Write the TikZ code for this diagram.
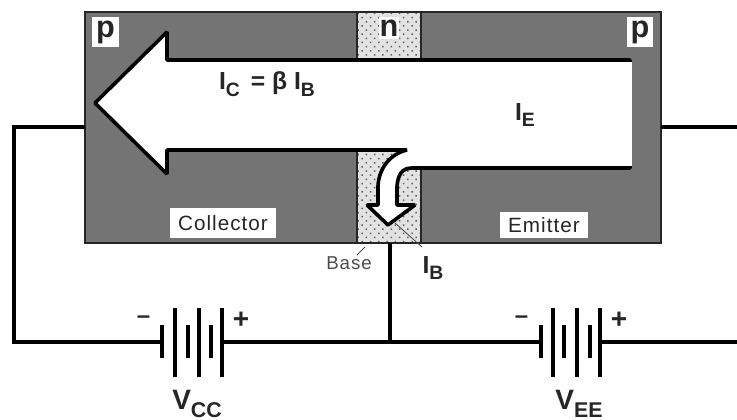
\documentclass[tikz,border=0pt]{standalone}
\usepackage{fontspec}
\setmainfont{Liberation Sans}
\newfontfamily\labfont[LetterSpace=5]{Liberation Sans}
\usetikzlibrary{patterns.meta}
\definecolor{dope}{HTML}{747474}
\definecolor{basefill}{HTML}{E2E2E2}
\definecolor{basedot}{HTML}{606060}
\tikzset{
  x=0.75pt,y=-0.75pt,
  wire/.style={line width=2.3pt,black,line cap=butt},
  frameline/.style={line width=1.2pt,draw=black!85},
  carrier/.style={fill=white,draw=black,line width=2.7pt,line join=bevel},
  plate/.style={line width=2.8pt,black},
  tag/.style={fill=white,inner sep=0pt,font=\fontsize{15.5}{16}\labfont\color{black!85}},
  big/.style={inner sep=1pt,font=\fontsize{18.5}{19}\bfseries\color{black!85}},
  mini/.style={inner sep=0pt,font=\fontsize{14}{15}\labfont\color{black!70}},
  lead/.style={line width=0.6pt,black!70},
  type/.style={fill=white,inner sep=0pt,font=\fontsize{23}{24}\bfseries\color{black!85}}
}
\newcommand{\sub}[1]{\raisebox{-0.28em}{\fontsize{14.5}{15}\bfseries #1}}
\begin{document}
\begin{tikzpicture}
\useasboundingbox (0,0) rectangle (737,420);
% semiconductor body
\fill[white] (0,0) rectangle (737,420);
\fill[dope] (85,12) rectangle (661,243);
\fill[basefill] (357,12) rectangle (421,243);
\fill[pattern={Dots[radius=0.8pt,distance=4.4pt,angle=45,xshift=1pt]},pattern color=basedot] (357,12) rectangle (421,243);
\draw[frameline] (85,12) rectangle (661,243);
\draw[frameline] (357,12) -- (357,243) (421,12) -- (421,243);
% large current arrow with branch to the base
\path[carrier] (95,103) -- (167,32) -- (167,60) -- (630,60) -- (630,168)
  -- (412,168) .. controls (401,168) and (398,176) .. (397,186) -- (397,205) -- (415,205)
  -- (388,225) -- (367,205) -- (378,205) -- (378,186)
  .. controls (379,168) and (390,154) .. (407,150) -- (167,150) -- (167,174) -- cycle;
\fill[white] (627,62) rectangle (632,166);
% labels
\node[type,minimum width=20pt,minimum height=23pt] (pl) at (105.5,32) {p};
\node[type,minimum width=15pt,minimum height=17pt] (nl) at (389,28) {n};
\node[type,minimum width=19pt,minimum height=23pt] (pr) at (640,32) {p};
\node[tag,minimum width=80pt,minimum height=22pt] (coll) at (223,223) {Collector};
\node[tag,minimum width=66pt,minimum height=20pt] (emit) at (544,225) {Emitter};
\node[big] (ic) at (267,84) {I\sub{C} \,= β I\sub{B}};
\node[big] (ie) at (525,115) {I\sub{E}};
\node[big] (ib) at (433,268) {I\sub{B}};
\node[mini] (bs) at (349,263) {Base};
\coordinate (btick) at (365,247);
\coordinate (btail) at (357,255);
\coordinate (ibt) at (395,223);
\coordinate (ibe) at (422,247);
\draw[lead] (btail) -- (btick);
\draw[lead] (ibt) -- (ibe);
% batteries
\foreach \n/\x in {a/162,c/188,e/211,g/541,i/564,k/590}{
  \coordinate (\n1) at (\x,325); \coordinate (\n2) at (\x,358);
  \draw[plate] (\n1) -- (\n2);
}
\foreach \n/\x in {b/175,d/199,f/222,h/553,j/577,m/600}{
  \coordinate (\n1) at (\x,308); \coordinate (\n2) at (\x,377);
  \draw[plate] (\n1) -- (\n2);
}
% wires
\coordinate (cl) at (85,127);
\coordinate (cr) at (661,127);
\coordinate (rt) at (737,127);
\coordinate (rb) at (737,342);
\coordinate (jb) at (390,342);
\coordinate (bt) at (390,243);
\coordinate (a3) at (162,342);
\coordinate (f3) at (222,342);
\coordinate (g3) at (541,342);
\coordinate (m3) at (600,342);
\draw[wire,line join=miter] (cl) -- (14,127) -- (14,342) -- (a3);
\draw[wire] (f3) -- (g3);
\draw[wire] (m3) -- (rb);
\draw[wire] (cr) -- (rt);
\draw[wire] (bt) -- (jb);
\node[big] (m1) at (143.5,320) {\fontsize{18}{18}\bfseries –};
\node[big] (p1) at (241,320) {\fontsize{21}{21}\bfseries +};
\node[big] (m2) at (521.5,320) {\fontsize{18}{18}\bfseries –};
\node[big] (p2) at (619,320) {\fontsize{21}{21}\bfseries +};
\node[big] (vc) at (197,404) {\fontsize{21}{22}\bfseries V\sub{\fontsize{16}{16}\bfseries CC}};
\node[big] (ve) at (579,404) {\fontsize{21}{22}\bfseries V\sub{\fontsize{16}{16}\bfseries EE}};
\end{tikzpicture}
\end{document}
